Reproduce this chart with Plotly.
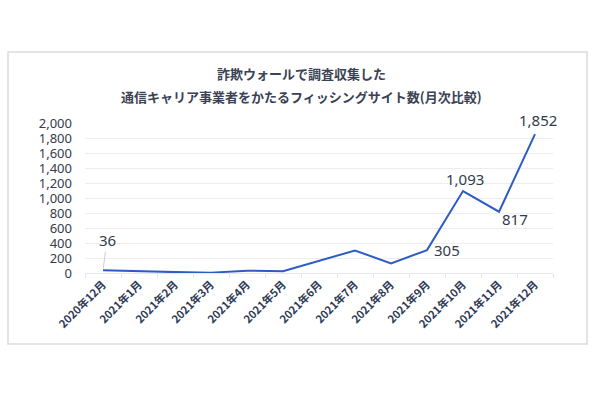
import plotly.graph_objects as go

months = ["2020年12月", "2021年1月", "2021年2月", "2021年3月", "2021年4月", "2021年5月",
          "2021年6月", "2021年7月", "2021年8月", "2021年9月", "2021年10月", "2021年11月", "2021年12月"]
counts = [36, 20, 12, 5, 30, 25, 165, 300, 129, 305, 1093, 817, 1852]
labeled = {0: (4, -30, True), 9: (20, 0, False), 10: (2, -12, False), 11: (16, 7, False), 12: (3, -14, False)}
y_ticks = list(range(0, 2001, 200))
title_lines = ["詐欺ウォールで調査収集した", "通信キャリア事業者をかたるフィッシングサイト数(月次比較)"]

W, H = 600, 399
L, R, T, B = 85, 47, 123, 126
pw, ph = W - L - R, H - T - B

fig = go.Figure()
fig.add_trace(go.Scatter(x=months, y=counts, mode="lines",
                         line=dict(color="#2d5cc6", width=2), hoverinfo="skip"))

txt = "#333b4c"
ann = []
for i, (dx, dy, arrow) in labeled.items():
    if arrow:
        ann.append(dict(x=months[i], y=counts[i], text=f"{counts[i]:,}", showarrow=True,
                        ax=dx, ay=dy, arrowhead=0, arrowwidth=1, arrowcolor="#c9ced8",
                        standoff=2, font=dict(size=15, color=txt, family="Noto Sans, sans-serif")))
    else:
        ann.append(dict(x=months[i], y=counts[i], text=f"{counts[i]:,}", showarrow=False,
                        xshift=dx, yshift=-dy, font=dict(size=15, color=txt, family="Noto Sans, sans-serif")))

for k, (line, py) in enumerate(zip(title_lines, [73, 96])):
    ann.append(dict(xref="paper", yref="paper", x=(301 - L) / pw, y=(H - B - py) / ph,
                    text=f"<b>{line}</b>", showarrow=False, xanchor="center", yanchor="middle",
                    font=dict(size=13, color="#3a4254", family="Noto Sans CJK JP")))

fig.update_layout(
    width=W, height=H, autosize=False,
    margin=dict(l=L, r=R, t=T, b=B, autoexpand=False),
    paper_bgcolor="white", plot_bgcolor="white",
    showlegend=False,
    annotations=ann,
    shapes=[dict(type="rect", xref="paper", yref="paper",
                 x0=(8 - L) / pw, x1=(587 - L) / pw,
                 y0=(H - B - 344) / ph, y1=(H - B - 52) / ph,
                 line=dict(color="#dcdcdc", width=1.5), fillcolor="rgba(0,0,0,0)", layer="below")],
    xaxis=dict(type="category", range=[-0.5, len(months) - 0.5], automargin=False,
               tickangle=-45, showgrid=False, showline=True, linecolor="#e6e8ec",
               linewidth=1, ticks="outside", tickson="boundaries", ticklen=4, tickcolor="#e6e8ec",
               tickfont=dict(size=11, color="#2e3a55", family="Noto Sans CJK JP", weight="bold")),
    yaxis=dict(range=[0, 2000], automargin=False, tickvals=y_ticks, tickformat=",d",
               showgrid=True, gridcolor="#eceef2",
               zeroline=False, showline=False, ticklabelstandoff=12,
               tickfont=dict(size=13, color=txt, family="Noto Sans, sans-serif")),
)

fig.write_html("out.html", config={"displayModeBar": False},
               post_script="document.body.style.margin='0';")
